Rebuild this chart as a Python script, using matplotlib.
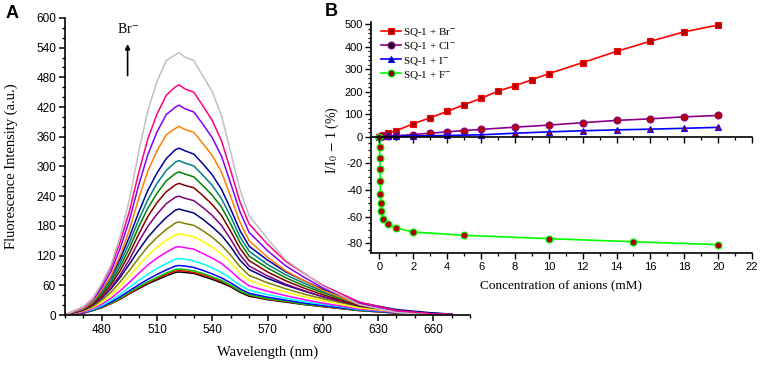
import numpy as np
import matplotlib
matplotlib.use('Agg')
import matplotlib.pyplot as plt
from matplotlib.ticker import FixedLocator, MultipleLocator, FuncFormatter
from matplotlib.lines import Line2D

plt.rcParams['mathtext.fontset'] = 'stix'
plt.rcParams['axes.unicode_minus'] = False
SANS = ['Liberation Sans', 'DejaVu Sans']
SERIF = ['Liberation Serif', 'DejaVu Serif']

# ---------------- Panel A data ----------------
wavelength = [460, 470, 475, 480, 485, 490, 495, 500, 505, 510, 515, 520, 522, 525, 530,
              535, 540, 545, 550, 555, 560, 570, 580, 590, 600, 620, 640, 660, 670]

sp_black = [0, 4, 9, 15, 23, 32, 43, 53, 63, 71, 79, 86, 87, 86, 84, 78, 72, 65, 57, 46, 38, 31, 26, 21, 17, 9, 4, 2, 1]
sp_red = [0, 4, 9, 15, 23, 33, 44, 55, 65, 74, 82, 89, 90, 89, 86, 81, 75, 68, 59, 48, 40, 32, 27, 22, 17, 9, 4, 2, 1]
sp_green = [0, 5, 9, 16, 24, 34, 46, 57, 67, 76, 85, 92, 93, 92, 89, 84, 77, 70, 60, 49, 41, 33, 28, 22, 18, 9, 5, 2, 1]
sp_blue = [0, 5, 10, 17, 26, 37, 49, 61, 72, 82, 91, 99, 100, 99, 96, 90, 83, 75, 65, 53, 44, 36, 30, 24, 19, 10, 5, 2, 1]
sp_cyan = [0, 6, 11, 19, 30, 42, 56, 70, 82, 94, 104, 113, 114, 113, 109, 103, 95, 86, 74, 60, 50, 41, 34, 27, 22, 11, 6, 2, 1]
sp_magenta = [0, 6, 13, 22, 34, 49, 66, 84, 101, 115, 127, 137, 138, 136, 133, 124, 115, 104, 89, 72, 59, 48, 39, 31, 24, 12, 6, 2, 1]
sp_yellow = [0, 8, 15, 26, 40, 58, 79, 100, 120, 137, 151, 162, 164, 162, 158, 148, 137, 123, 106, 85, 70, 57, 46, 37, 29, 14, 7, 3, 1]
sp_dkyellow = [0, 9, 17, 30, 46, 67, 90, 115, 138, 157, 173, 186, 188, 185, 181, 170, 157, 141, 121, 98, 80, 65, 53, 42, 33, 17, 8, 3, 2]
sp_navy = [0, 10, 20, 34, 53, 76, 103, 131, 157, 178, 197, 212, 214, 211, 206, 193, 178, 161, 138, 111, 92, 74, 60, 48, 37, 19, 9, 3, 2]
sp_purple = [0, 10, 20, 35, 55, 81, 112, 148, 179, 204, 225, 238, 240, 236, 231, 217, 201, 181, 153, 122, 99, 79, 62, 49, 37, 18, 8, 3, 1]
sp_wine = [0, 11, 22, 39, 61, 90, 124, 163, 199, 227, 249, 263, 266, 262, 257, 241, 223, 201, 169, 135, 110, 87, 69, 54, 41, 19, 9, 3, 1]
sp_olive = [0, 12, 24, 43, 66, 98, 135, 178, 216, 246, 271, 286, 289, 285, 279, 261, 242, 218, 184, 147, 119, 95, 75, 59, 45, 21, 9, 3, 2]
sp_dkcyan = [0, 13, 26, 46, 71, 106, 146, 192, 233, 266, 292, 309, 312, 307, 301, 282, 262, 235, 199, 158, 129, 102, 81, 64, 48, 23, 10, 3, 2]
sp_royal = [0, 14, 28, 50, 77, 114, 158, 207, 252, 287, 316, 334, 337, 332, 325, 305, 283, 254, 214, 171, 139, 111, 87, 69, 52, 25, 11, 4, 2]
sp_orange = [0, 13, 27, 50, 79, 121, 172, 235, 291, 332, 364, 377, 381, 375, 369, 346, 322, 289, 239, 188, 150, 117, 89, 69, 50, 21, 8, 2, 1]
sp_violet = [0, 15, 30, 56, 88, 135, 192, 262, 324, 370, 405, 420, 424, 417, 410, 385, 358, 321, 266, 209, 167, 130, 99, 76, 55, 23, 8, 2, 1]
sp_pink = [0, 16, 33, 62, 97, 148, 210, 287, 356, 406, 444, 461, 465, 457, 450, 422, 393, 352, 292, 229, 184, 143, 108, 84, 60, 26, 9, 2, 1]
sp_gray = [0, 16, 32, 64, 101, 159, 233, 329, 413, 472, 514, 526, 530, 521, 514, 482, 451, 403, 329, 254, 201, 154, 111, 85, 58, 21, 5, 0, 0]

spectra = [sp_black, sp_red, sp_green, sp_blue, sp_cyan, sp_magenta, sp_yellow, sp_dkyellow,
           sp_navy, sp_purple, sp_wine, sp_olive, sp_dkcyan, sp_royal, sp_orange, sp_violet,
           sp_pink, sp_gray]
spec_colors = ['#000000', '#FF0000', '#00C800', '#0000FF', '#00FFFF', '#FF00FF', '#FFFF00', '#808000',
               '#000080', '#800080', '#800000', '#008000', '#008080', '#0000A0', '#FF8000', '#8000FF',
               '#FF0080', '#C0C0C0']

# ---------------- Panel B data ----------------
br_x = [0, 0.1, 0.2, 0.5, 1, 2, 3, 4, 5, 6, 7, 8, 9, 10, 12, 14, 16, 18, 20]
br_y = [0, 4, 9, 16, 28, 58, 85, 113, 143, 171, 203, 227, 254, 281, 330, 380, 425, 467, 497]
cl_x = [0, 0.2, 0.5, 1, 2, 3, 4, 5, 6, 8, 10, 12, 14, 16, 18, 20]
cl_y = [0, 2, 3, 5, 10, 16, 22, 28, 33, 43, 52, 63, 73, 80, 89, 95]
i_x = [0, 0.5, 1, 2, 4, 6, 8, 10, 12, 14, 16, 18, 20]
i_y = [0, 2, 3, 4, 6, 9, 16, 22, 27, 31, 34, 38, 42]
f_x = [0, 0.01, 0.02, 0.03, 0.04, 0.05, 0.07, 0.1, 0.2, 0.5, 1, 2, 5, 10, 15, 20]
f_y = [0, -8, -16, -24.5, -33.5, -43, -49.5, -55.7, -61.7, -65.4, -68.6, -71.5, -74, -76.5, -78.8, -81]

W, H = 760, 365
fig = plt.figure(figsize=(W / 100, H / 100), dpi=100)

def rect(l, t, r, b):
    return [l / W, 1 - b / H, (r - l) / W, (b - t) / H]

# ---------------- Panel A ----------------
axA = fig.add_axes(rect(65, 18, 470, 315))
axA.set_facecolor('none')
for vals, c in zip(spectra, spec_colors):
    axA.plot(wavelength, vals, color=c, lw=1.1)
axA.set_xlim(460, 680)
axA.set_ylim(0, 600)
axA.xaxis.set_major_locator(FixedLocator([480, 510, 540, 570, 600, 630, 660]))
axA.xaxis.set_minor_locator(MultipleLocator(10))
axA.yaxis.set_major_locator(MultipleLocator(60))
axA.yaxis.set_minor_locator(MultipleLocator(20))
for s in ['top', 'right']:
    axA.spines[s].set_visible(False)
for s in ['left', 'bottom']:
    axA.spines[s].set_linewidth(1.2)
axA.tick_params(which='major', direction='out', length=4.5, width=1.1, labelsize=8.5, pad=2)
axA.tick_params(which='minor', direction='out', length=2.5, width=1.0)
for lab in axA.get_xticklabels() + axA.get_yticklabels():
    lab.set_family(SANS)
axA.set_xlabel('Wavelength (nm)', family=SERIF, fontsize=10.5, labelpad=7)
fig.text(11 / W, 1 - 166 / H, 'Fluorescence Intensity (a.u.)', family=SERIF, fontsize=10.5,
         rotation=90, ha='center', va='center')
axA.annotate('', xy=(494, 553), xytext=(494, 478),
             arrowprops=dict(arrowstyle='-|>', color='black', lw=1.2, mutation_scale=7))
axA.text(494, 563, 'Br$^{-}$', family=SERIF, fontsize=10, ha='center', va='bottom')

# ---------------- Panel B ----------------
K = 5.92

def fwd(y):
    y = np.asarray(y, dtype=float)
    return np.where(y >= 0, y, y * K)

def inv(y):
    y = np.asarray(y, dtype=float)
    return np.where(y >= 0, y, y / K)

axB = fig.add_axes(rect(371, 21.7, 752, 253.3))
axB.set_facecolor('none')
axB.set_yscale('function', functions=(fwd, inv))
axB.set_ylim(-87.5, 512)
axB.set_xlim(-0.5, 22)

series = [
    (br_x, br_y, '#FF0000', 's', 'SQ-1 + Br$^{-}$', '#8B0000'),
    (cl_x, cl_y, '#8B008B', 'o', 'SQ-1 + Cl$^{-}$', '#1A0010'),
    (i_x, i_y, '#0000FF', '^', 'SQ-1 + I$^{-}$', '#00007A'),
    (f_x, f_y, '#00FF00', 'o', 'SQ-1 + F$^{-}$', '#8B0000'),
]
for xs, ys, lc, mk, lab, lfc in series:
    axB.plot(xs, ys, color=lc, lw=1.2, marker=mk, markersize=5,
             markerfacecolor='#B00000', markeredgecolor=lc, markeredgewidth=0.8, zorder=3)

handles = [Line2D([0], [0], color=lc, lw=1.2, marker=mk, markersize=5,
                  markerfacecolor=lfc, markeredgecolor=lc, markeredgewidth=0.8)
           for xs, ys, lc, mk, lab, lfc in series]
labels = [s[4] for s in series]
leg = axB.legend(handles, labels, loc='upper left', bbox_to_anchor=(0.012, 1.005),
                 frameon=False, borderpad=0, handlelength=1.8, handletextpad=0.2,
                 labelspacing=0.2, prop={'family': SERIF, 'size': 8})

axB.yaxis.set_major_locator(FixedLocator([-80, -60, -40, -20, 0, 100, 200, 300, 400, 500]))
minor_up = [v for v in range(20, 520, 20) if v % 100 != 0]
minor_dn = [v for v in range(-85, 0, 5) if v % 20 != 0]
axB.yaxis.set_minor_locator(FixedLocator(minor_dn + minor_up))
axB.yaxis.set_major_formatter(FuncFormatter(lambda v, p: '%d' % round(v)))
axB.xaxis.set_major_locator(MultipleLocator(2))
axB.xaxis.set_minor_locator(MultipleLocator(1))
for s in ['top', 'right']:
    axB.spines[s].set_visible(False)
for s in ['left', 'bottom']:
    axB.spines[s].set_linewidth(1.2)
axB.tick_params(which='major', direction='out', length=4, width=1.0, labelsize=8, pad=2)
axB.tick_params(which='minor', direction='out', length=2.2, width=0.9)
for lab in axB.get_xticklabels() + axB.get_yticklabels():
    lab.set_family(SANS)
axB.set_xlabel('Concentration of anions (mM)', family=SERIF, fontsize=9.5, labelpad=6)

# zero line with its own ticks
axZ = axB.twiny()
axZ.set_xlim(axB.get_xlim())
axZ.xaxis.set_major_locator(MultipleLocator(2))
axZ.xaxis.set_minor_locator(MultipleLocator(1))
for s in ['bottom', 'left', 'right']:
    axZ.spines[s].set_visible(False)
axZ.spines['top'].set_position(('data', 0))
axZ.spines['top'].set_linewidth(1.2)
axZ.tick_params(axis='x', which='major', direction='in', length=4, width=1.0,
                labeltop=False, top=True)
axZ.tick_params(axis='x', which='minor', direction='in', length=2.2, width=0.9,
                top=True)

fig.text(332 / W, 1 - 140 / H, 'I/I$_0$ $-$ 1 (%)', family=SERIF, fontsize=10,
         rotation=90, ha='center', va='center')

fig.text(12 / W, 1 - 13 / H, 'A', family=SANS, fontsize=13, fontweight='bold',
         ha='center', va='center')
fig.text(331 / W, 1 - 12 / H, 'B', family=SANS, fontsize=13, fontweight='bold',
         ha='center', va='center')

fig.savefig('out.png', dpi=100)
